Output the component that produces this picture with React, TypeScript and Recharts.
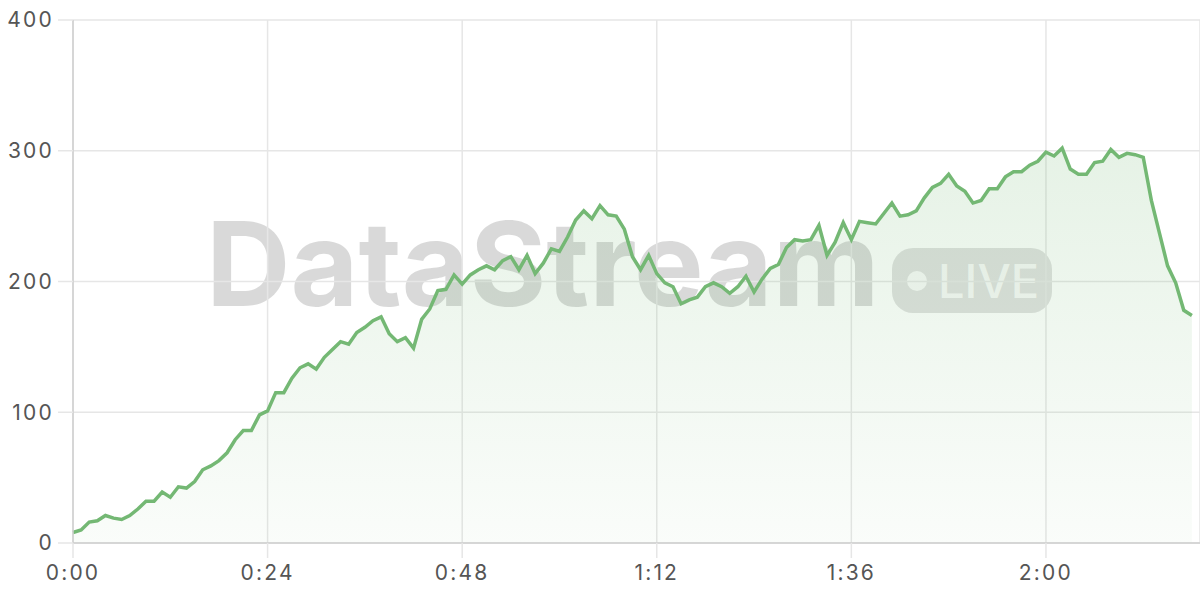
import { AreaChart, Area, XAxis, YAxis, CartesianGrid } from 'recharts';

// one reading per minute, starting at 0:00
const viewers = [
  8, 10, 16, 17, 21, 19, 18, 21, 26, 32,
  32, 39, 35, 43, 42, 47, 56, 59, 63, 69,
  79, 86, 86, 98, 101, 115, 115, 126, 134, 137,
  133, 142, 148, 154, 152, 161, 165, 170, 173, 160,
  154, 157, 149, 171, 179, 193, 194, 205, 198, 205,
  209, 212, 209, 216, 219, 209, 220, 206, 214, 225,
  223, 234, 247, 254, 248, 258, 251, 250, 240, 219,
  209, 220, 206, 199, 196, 183, 186, 188, 196, 199,
  196, 191, 196, 204, 192, 202, 210, 213, 226, 232,
  231, 232, 243, 220, 230, 245, 232, 246, 245, 244,
  252, 260, 250, 251, 254, 264, 272, 275, 282, 273,
  269, 260, 262, 271, 271, 280, 284, 284, 289, 292,
  299, 296, 302, 286, 282, 282, 291, 292, 301, 295,
  298, 297, 295, 262, 237, 212, 199, 178, 174,
];

const xTicks = [0, 24, 48, 72, 96, 120];
const yTicks = [0, 100, 200, 300, 400];

const LINE = '#74b874';
const FONT = 'Inter, "Noto Sans", sans-serif';
const tickStyle = { fill: '#555', fontSize: 21, fontFamily: FONT, letterSpacing: 2.2 };

const fmtTime = (m: number) => `${Math.floor(m / 60)}:${String(m % 60).padStart(2, '0')}`;

export default function App() {
  const data = viewers.map((v, i) => ({ minute: i, value: v }));

  return (
    <div style={{ position: 'absolute', left: 0, top: 0, width: 1200, height: 600, background: '#fff', fontFamily: FONT }}>
      {/* watermark sits behind the chart */}
      <div
        style={{
          position: 'absolute',
          left: 206,
          top: 205,
          fontSize: 117,
          fontWeight: 700,
          color: 'rgba(0,0,0,0.15)',
          lineHeight: 1,
          whiteSpace: 'nowrap',
        }}
      >
        DataStream
      </div>
      <div
        style={{
          position: 'absolute',
          left: 892,
          top: 248,
          width: 160,
          height: 65,
          borderRadius: 21,
          background: 'rgba(0,0,0,0.12)',
          display: 'flex',
          alignItems: 'center',
          color: 'rgba(255,255,255,0.8)',
          fontSize: 47,
          fontWeight: 500,
        }}
      >
        <span style={{ width: 20, height: 20, borderRadius: 10, background: 'rgba(255,255,255,0.8)', marginLeft: 15, marginRight: 11 }} />
        LIVE
      </div>

      <div style={{ position: 'absolute', left: 0, top: 0 }}>
        <AreaChart width={1200} height={600} data={data} margin={{ top: 20, right: 0, bottom: 0, left: 0 }}>
          <defs>
            <linearGradient id="fill" x1="0" y1="0" x2="0" y2="1">
              <stop offset="0%" stopColor={LINE} stopOpacity={0.3} />
              <stop offset="100%" stopColor={LINE} stopOpacity={0.06} />
            </linearGradient>
          </defs>
          <CartesianGrid stroke="#e6e6e6" strokeWidth={1.5} />
          <XAxis
            dataKey="minute"
            type="number"
            domain={[0, 139]}
            ticks={xTicks}
            tickFormatter={fmtTime}
            height={57}
            tickSize={15}
            tickMargin={7}
            axisLine={{ stroke: '#cfcfcf', strokeWidth: 1.5 }}
            tickLine={{ stroke: '#e6e6e6', strokeWidth: 1.5 }}
            tick={tickStyle}
          />
          <YAxis
            domain={[0, 400]}
            ticks={yTicks}
            width={73}
            tickSize={15}
            tickMargin={4}
            axisLine={{ stroke: '#cfcfcf', strokeWidth: 1.5 }}
            tickLine={{ stroke: '#e6e6e6', strokeWidth: 1.5 }}
            tick={tickStyle}
          />
          <Area
            type="linear"
            dataKey="value"
            stroke={LINE}
            strokeWidth={3.5}
            fill="url(#fill)"
            dot={false}
            isAnimationActive={false}
          />
        </AreaChart>
      </div>
    </div>
  );
}
